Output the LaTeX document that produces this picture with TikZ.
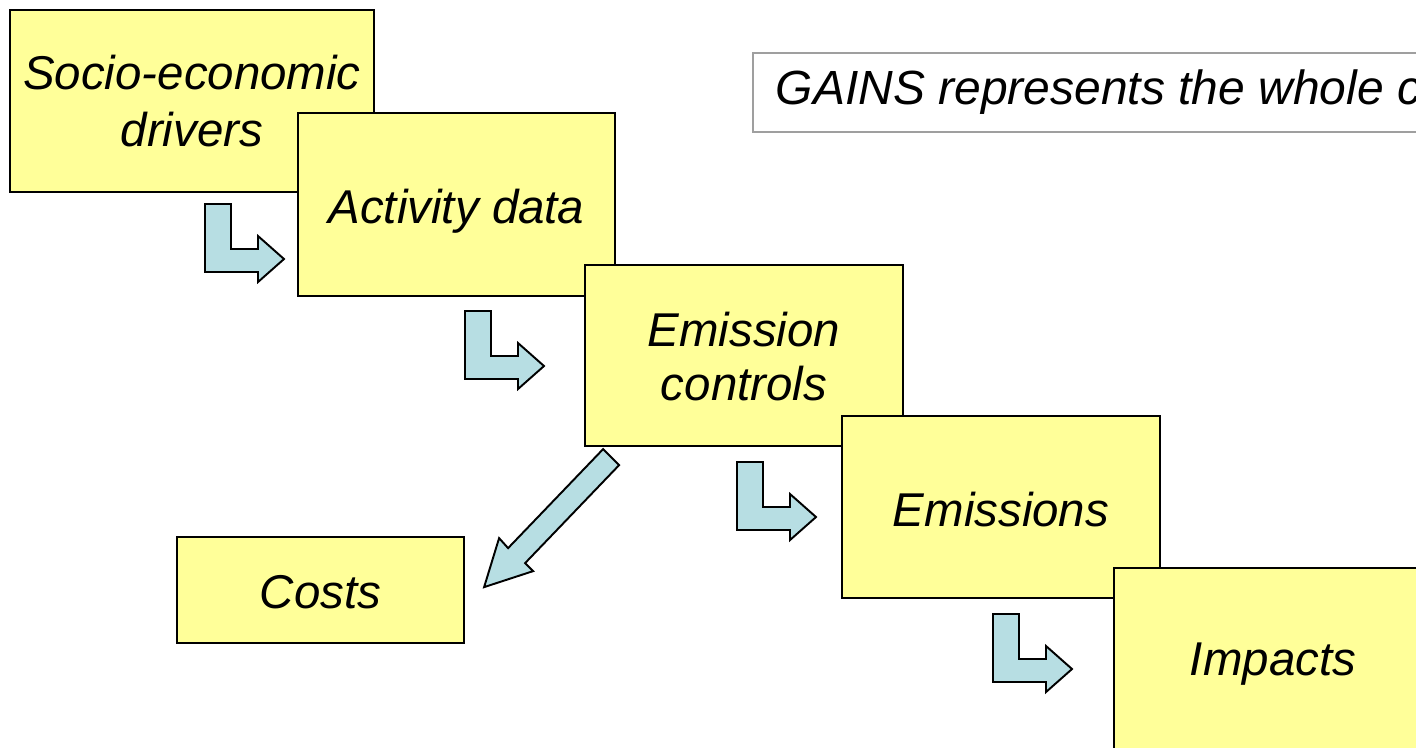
\documentclass[tikz,border=0pt]{standalone}
\usepackage{fontspec}
\setmainfont{Liberation Sans}
\definecolor{boxyellow}{HTML}{FFFF99}
\definecolor{arrowblue}{HTML}{B7DEE3}
\newcommand{\lowertext}[2]{\raisebox{-#1}[\height][\depth]{#2}}

\begin{document}
\begin{tikzpicture}[line width=1.1pt,
    box/.style = {draw, fill=boxyellow, align=center, inner sep=0pt,
      font=\fontsize{27}{32}\selectfont\itshape},
    note/.style = {draw=gray!75, fill=white, anchor=west, inner xsep=0.46cm,
      minimum height=1.58cm, font=\fontsize{27.3}{32}\selectfont\itshape},
    block/.style = {draw, fill=arrowblue, line join=miter},
    pics/bendarrow/.style = {code={
      \draw[block, x=0.02cm, y=-0.02cm] (0,0) -- (26,0) -- (26,45) -- (53,45)
        -- (53,32) -- (79,55) -- (53,78) -- (53,68) -- (0,68) -- cycle;
    }}]
    \useasboundingbox (0,0) rectangle (28.32,-14.94);
    \clip (0,0) rectangle (28.32,-14.94);

    % the chain of boxes
    \node[box, minimum width=7.28cm, minimum height=3.64cm] (drivers) at (3.84,-2.02) {Socio-economic\\ drivers};
    \node[box, minimum width=6.34cm, minimum height=3.66cm] (activity) at (9.13,-4.09) {\lowertext{0.14cm}{Activity data}};
    \node[box, minimum width=6.36cm, minimum height=3.62cm] (controls) at (14.88,-7.11) {\lowertext{0.04cm}{Emission}\\ controls};
    \node[box, minimum width=6.36cm, minimum height=3.64cm] (emissions) at (20.02,-10.14) {\lowertext{0.06cm}{Emissions}};
    \node[box, minimum width=6.36cm, minimum height=3.64cm] (impacts) at (25.46,-13.18) {\lowertext{0.1cm}{Impacts}};
    \node[box, minimum width=5.74cm, minimum height=2.12cm] (costs) at (6.41,-11.8) {\lowertext{0.04cm}{Costs}};

    \node[note] (gains) at (15.04,-1.85) {GAINS represents the whole cause-effect chain};

    % block arrows
    \pic at (4.1,-4.08) {bendarrow};
    \pic at (9.3,-6.22) {bendarrow};
    \pic at (14.74,-9.24) {bendarrow};
    \pic at (19.86,-12.28) {bendarrow};

    \draw[block, x=0.02cm, y=-0.02cm] (603,449) -- (619,465) -- (525,563) -- (533,571)
      -- (484,587) -- (499,538) -- (508,548) -- cycle;
\end{tikzpicture}
\end{document}
